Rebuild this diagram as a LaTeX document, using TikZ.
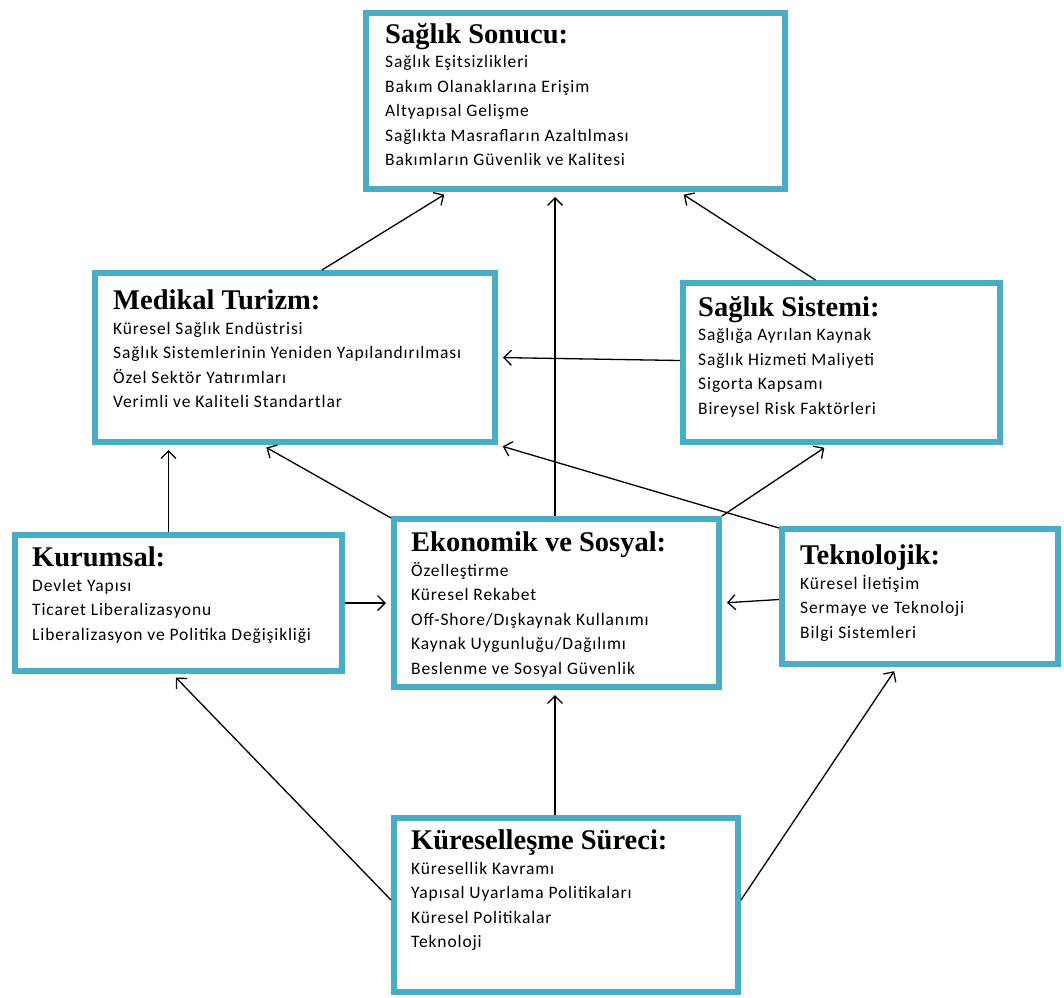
\documentclass[tikz,border=0pt]{standalone}
\usepackage{fontspec}
\setmainfont{Carlito}[LetterSpace=5]
\newfontfamily\baslikfont{Liberation Serif}
\usetikzlibrary{arrows.meta}
\usetikzlibrary{positioning}
\definecolor{kutumavi}{RGB}{75,172,198}
\newcommand{\baslik}[1]{{\baslikfont\bfseries\fontsize{28.5}{28.5}\selectfont #1}}

\begin{document}
\begin{tikzpicture}[x=1pt,y=-1pt,
		kutu/.style={draw=kutumavi, line width=6pt, inner sep=0pt},
		yazi/.style={align=left, inner sep=0pt, font=\fontsize{17.5}{24.5}\selectfont},
		ok/.style={-{Straight Barb[length=7.5pt,width=15pt]}, line width=1.3pt, shorten >=5pt}]
			\useasboundingbox (0,0) rectangle (1064,997);
			% kutular
			\node[kutu, minimum width=419pt, minimum height=176pt] (sonuc) at (575.5,101) {};
			\node[kutu, minimum width=400pt, minimum height=169pt] (medikal) at (295,357.5) {};
			\node[kutu, minimum width=317pt, minimum height=159pt] (sistem) at (841.5,362.5) {};
			\node[kutu, minimum width=327pt, minimum height=136pt] (kurumsal) at (178.5,603) {};
			\node[kutu, minimum width=325pt, minimum height=168pt] (ekonomik) at (556.5,603) {};
			\node[kutu, minimum width=276pt, minimum height=135pt] (teknoloji) at (920,596.5) {};
			\node[kutu, minimum width=344pt, minimum height=174pt] (kuresel) at (566,905) {};
			% yazilar
			\node[yazi, below right=13pt and 22pt of sonuc.north west] (sonucyazi) {\baslik{Sağlık Sonucu:}\\
				Sağlık Eşitsizlikleri\\ Bakım Olanaklarına Erişim\\ Altyapısal Gelişme\\
				Sağlıkta Masrafların Azaltılması\\ Bakımların Güvenlik ve Kalitesi};
			\node[yazi, below right=20pt and 21pt of medikal.north west] (medikalyazi) {\baslik{Medikal Turizm:}\\
				Küresel Sağlık Endüstrisi\\ Sağlık Sistemlerinin Yeniden Yapılandırılması\\
				Özel Sektör Yatırımları\\ Verimli ve Kaliteli Standartlar};
			\node[yazi, below right=16pt and 18pt of sistem.north west] (sistemyazi) {\baslik{Sağlık Sistemi:}\\
				Sağlığa Ayrılan Kaynak\\ Sağlık Hizmeti Maliyeti\\ Sigorta Kapsamı\\ Bireysel Risk Faktörleri};
			\node[yazi, below right=15pt and 20pt of kurumsal.north west] (kurumsalyazi) {\baslik{Kurumsal:}\\
				Devlet Yapısı\\ Ticaret Liberalizasyonu\\ Liberalizasyon ve Politika Değişikliği};
			\node[yazi, below right=16pt and 20pt of ekonomik.north west] (ekonomikyazi) {\baslik{Ekonomik ve Sosyal:}\\
				Özelleştirme\\ Küresel Rekabet\\ Off-Shore/Dışkaynak  Kullanımı\\
				Kaynak Uygunluğu/Dağılımı\\ Beslenme ve Sosyal Güvenlik};
			\node[yazi, below right=19pt and 21pt of teknoloji.north west] (teknolojiyazi) {\baslik{Teknolojik:}\\
				Küresel İletişim\\ Sermaye ve Teknoloji\\ Bilgi Sistemleri};
			\node[yazi, below right=15pt and 20pt of kuresel.north west] (kureselyazi) {\baslik{Küreselleşme Süreci:}\\
				Küresellik Kavramı\\ Yapısal Uyarlama Politikaları\\ Küresel Politikalar\\ Teknoloji};
			% oklar
			\draw[ok] ([xshift=27pt]medikal.north) -- ([xshift=-127pt]sonuc.south);
			\draw[ok] ([xshift=-1.5pt]ekonomik.north) -- ([xshift=-1.5pt]ekonomik.north |- sonuc.south);
			\draw[ok] ([xshift=-26pt]sistem.north) -- ([xshift=104pt]sonuc.south);
			\draw[ok] ([yshift=2pt]sistem.west) -- (medikal.east);
			\draw[ok] ([xshift=-10pt]kurumsal.north) -- ([xshift=-10pt]kurumsal.north |- medikal.south);
			\draw[ok] ([yshift=-2pt]ekonomik.north west) -- ([xshift=-33pt]medikal.south);
			\draw[ok] ([yshift=-2pt]teknoloji.north west) -- (medikal.south east);
			\draw[ok] (ekonomik.north east) -- ([xshift=-13pt]sistem.south);
			\draw[ok] (kurumsal.east) -- (ekonomik.west);
			\draw[ok] ([yshift=-3pt]teknoloji.west) -- (ekonomik.east);
			\draw[ok] ([yshift=5pt]kuresel.west) -- ([xshift=-6pt]kurumsal.south);
			\draw[ok] ([xshift=-11pt]kuresel.north) -- ([xshift=-1.5pt]ekonomik.south);
			\draw[ok] ([yshift=5pt]kuresel.east) -- ([xshift=-23pt]teknoloji.south);
		\end{tikzpicture}
\end{document}
